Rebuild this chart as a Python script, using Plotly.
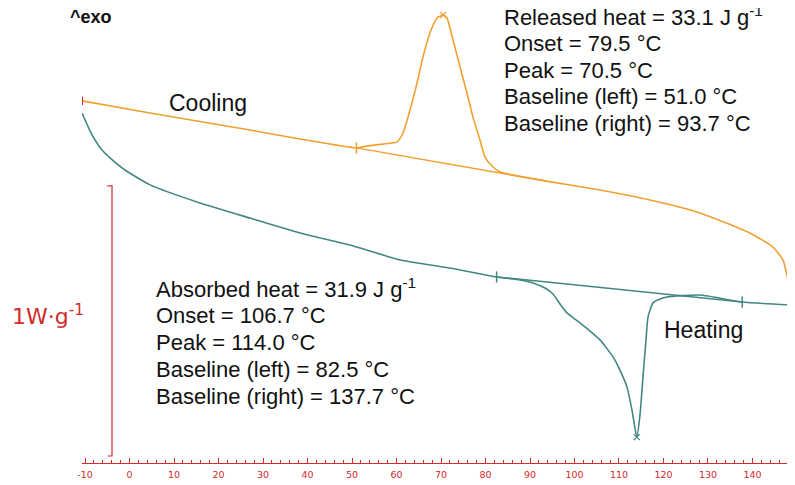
import plotly.graph_objects as go

# ---- data (temperature in °C, heat flow in W/g, arbitrary offset) ----
cool_T = [-10.67, 4.61, 27.08, 38.31, 51.0, 53.37, 56.97, 60.11, 61.46, 63.03, 64.61, 65.96,
          67.53, 69.10, 70.5, 71.35, 72.70, 74.27, 75.84, 77.19, 78.76, 79.89, 81.46, 83.26,
          93.6, 105.73, 116.97, 128.2, 139.4, 144.6, 146.85, 147.98, 148.9]
cool_HF = [1.341, 1.296, 1.233, 1.200, 1.167, 1.174, 1.181, 1.189, 1.222, 1.307, 1.407, 1.504,
           1.593, 1.648, 1.659, 1.648, 1.567, 1.467, 1.370, 1.281, 1.196, 1.133, 1.100, 1.078,
           1.044, 1.011, 0.974, 0.926, 0.852, 0.800, 0.752, 0.678, 0.604]
cool_base_T = [51.0, 93.7]
cool_base_HF = [1.167, 1.044]
cool_peak = (70.5, 1.659)

heat_T = [-10.67, -9.78, -8.88, -7.75, -6.18, -4.38, -1.01, 4.61, 15.84, 27.08, 38.31, 49.55,
          60.79, 72.02, 82.5, 87.75, 90.67, 93.37, 95.17, 96.74, 98.31, 101.24, 105.73, 108.65,
          110.22, 111.80, 112.92, 114.0, 114.72, 115.39, 116.07, 116.52, 117.64, 119.21, 120.79,
          128.20, 137.7, 149.1]
heat_HF = [1.296, 1.263, 1.230, 1.196, 1.159, 1.130, 1.085, 1.030, 0.963, 0.907, 0.852, 0.807,
           0.752, 0.722, 0.689, 0.678, 0.667, 0.648, 0.626, 0.589, 0.556, 0.519, 0.456, 0.393,
           0.344, 0.281, 0.196, 0.096, 0.178, 0.319, 0.456, 0.541, 0.593, 0.607, 0.615,
           0.622, 0.596, 0.585]
heat_base_T = [82.5, 137.7]
heat_base_HF = [0.689, 0.596]
heat_peak = (114.0, 0.096)

tick_vals = [-10, 0, 10, 20, 30, 40, 50, 60, 70, 80, 90, 100, 110, 120, 130, 140, 150]
tick_text = [str(v) for v in tick_vals]
minor_vals = [v for v in range(-10, 152, 2)]

cooling_info = ["Released heat = 33.1 J g<sup>-1</sup>", "Onset = 79.5 °C", "Peak = 70.5 °C",
                "Baseline (left) = 51.0 °C", "Baseline (right) = 93.7 °C"]
heating_info = ["Absorbed heat = 31.9 J g<sup>-1</sup>", "Onset = 106.7 °C", "Peak = 114.0 °C",
                "Baseline (left) = 82.5 °C", "Baseline (right) = 137.7 °C"]

ORANGE = "#F0A030"
TEAL = "#428782"
RED = "#D42A2A"

fig = go.Figure()
# baselines
fig.add_trace(go.Scatter(x=cool_base_T, y=cool_base_HF, mode="lines",
                         line=dict(color=ORANGE, width=1.5), hoverinfo="skip"))
fig.add_trace(go.Scatter(x=heat_base_T, y=heat_base_HF, mode="lines",
                         line=dict(color=TEAL, width=1.5), hoverinfo="skip"))
# curves
fig.add_trace(go.Scatter(x=cool_T, y=cool_HF, mode="lines",
                         line=dict(color=ORANGE, width=1.6, shape="spline", smoothing=0.5)))
fig.add_trace(go.Scatter(x=heat_T, y=heat_HF, mode="lines",
                         line=dict(color=TEAL, width=1.6, shape="spline", smoothing=0.5)))
# baseline limit ticks
fig.add_trace(go.Scatter(x=[cool_base_T[0]], y=[cool_base_HF[0]],
                         mode="markers", marker=dict(symbol="line-ns", size=8,
                         line=dict(color=ORANGE, width=1.5))))
fig.add_trace(go.Scatter(x=heat_base_T, y=heat_base_HF, mode="markers",
                         marker=dict(symbol="line-ns", size=8, line=dict(color=TEAL, width=1.5))))
# peaks
fig.add_trace(go.Scatter(x=[cool_peak[0]], y=[cool_peak[1]], mode="markers",
                         marker=dict(symbol="x-thin", size=6, line=dict(color=ORANGE, width=1.2))))
fig.add_trace(go.Scatter(x=[heat_peak[0]], y=[heat_peak[1]], mode="markers",
                         marker=dict(symbol="x-thin", size=6, line=dict(color=TEAL, width=1.2))))
# red curve end markers
fig.add_trace(go.Scatter(x=[cool_T[0], cool_T[-1]], y=[cool_HF[0], cool_HF[-1]], mode="markers",
                         marker=dict(symbol="line-ns", size=6, line=dict(color=RED, width=2))))

TXT = dict(family="Liberation Sans, Arial, sans-serif", size=22, color="#111111")
for i, t in enumerate(cooling_info):
    fig.add_annotation(x=83.6, y=1.654 - i * 0.0995, text=t, showarrow=False,
                       xanchor="left", yanchor="middle", font=TXT)
for i, t in enumerate(heating_info):
    fig.add_annotation(x=5.5, y=0.648 - i * 0.1005, text=t, showarrow=False,
                       xanchor="left", yanchor="middle", font=TXT)
fig.add_annotation(x=17.6, y=1.333, text="Cooling", showarrow=False, font=dict(TXT, size=23))
fig.add_annotation(x=129.1, y=0.493, text="Heating", showarrow=False, font=dict(TXT, size=23))
fig.add_annotation(x=-8.65, y=1.652, text="<b>^exo</b>", showarrow=False,
                   font=dict(family="Liberation Sans, Arial, sans-serif", size=18, color="#111111"))
fig.add_annotation(x=-0.0472, xref="paper", xanchor="center", y=0.548, yanchor="middle",
                   text="1W·g<sup>-1</sup>", showarrow=False,
                   font=dict(family="DejaVu Sans, Verdana, sans-serif", size=22, color=RED))
fig.add_annotation(x=147.75, y=-0.033, yref="paper", text="°C", showarrow=False,
                   xanchor="left", yanchor="middle",
                   font=dict(family="DejaVu Sans, Verdana, sans-serif", size=10, color=RED))

# 1 W/g scale bar
fig.add_shape(type="path", xref="x", yref="y",
              path="M -5.0 1.026 L -3.93 1.026 L -3.93 0.026 L -4.9 0.026",
              line=dict(color=RED, width=1.2))

fig.update_layout(
    width=795, height=485, showlegend=False,
    margin=dict(l=74, r=0, t=0, b=30),
    paper_bgcolor="white", plot_bgcolor="white",
    xaxis=dict(range=[-10.674, 151.35], showgrid=False, zeroline=False,
               showline=True, linecolor=RED, linewidth=1,
               tickmode="array", tickvals=tick_vals, ticktext=tick_text,
               ticks="inside", ticklen=5, tickcolor=RED, tickwidth=1,
               ticklabelstandoff=3,
               tickfont=dict(family="DejaVu Sans, Verdana, sans-serif", size=9.5, color=RED),
               minor=dict(tickmode="array", tickvals=minor_vals, ticks="inside",
                          ticklen=3, tickcolor=RED, tickwidth=1)),
    yaxis=dict(range=[0, 1.685], visible=False),
)
fig.write_html("out.html")
